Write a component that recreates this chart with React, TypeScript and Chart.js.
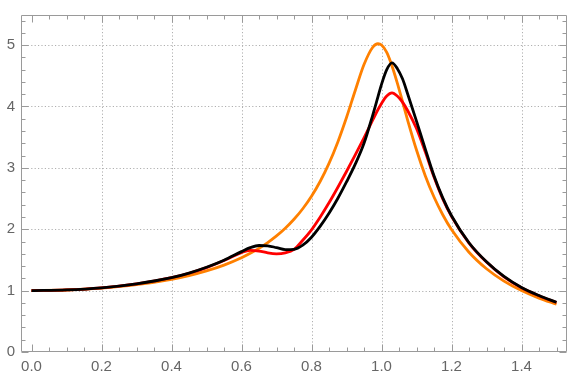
import React, { useEffect, useRef } from "react";
import { Chart, registerables } from "chart.js";

Chart.register(...registerables);

const X_VALUES = [0, 0.1, 0.2, 0.3, 0.4, 0.45, 0.5, 0.55, 0.6, 0.625, 0.65, 0.675, 0.7, 0.725, 0.75, 0.775, 0.8, 0.825, 0.85, 0.875, 0.9, 0.925, 0.95, 0.975, 0.99, 1.0, 1.015, 1.03, 1.045, 1.06, 1.075, 1.1, 1.125, 1.15, 1.175, 1.2, 1.25, 1.3, 1.35, 1.4, 1.45, 1.5];

const ORANGE_Y = [1, 1.01, 1.041, 1.097, 1.185, 1.246, 1.322, 1.416, 1.536, 1.608, 1.689, 1.783, 1.891, 2.016, 2.162, 2.334, 2.538, 2.782, 3.073, 3.419, 3.821, 4.261, 4.683, 4.965, 5.022, 5.0, 4.88, 4.66, 4.385, 4.08, 3.77, 3.29, 2.873, 2.525, 2.236, 1.995, 1.625, 1.356, 1.155, 1.0, 0.877, 0.778];

const RED_Y = [1, 1.011, 1.045, 1.11, 1.21, 1.283, 1.375, 1.49, 1.62, 1.655, 1.645, 1.615, 1.6, 1.615, 1.67, 1.82, 1.99, 2.2, 2.43, 2.68, 2.94, 3.21, 3.49, 3.78, 3.95, 4.05, 4.17, 4.22, 4.17, 4.07, 3.93, 3.64, 3.26, 2.85, 2.495, 2.21, 1.775, 1.465, 1.225, 1.047, 0.917, 0.807];

const BLACK_Y = [1, 1.011, 1.045, 1.11, 1.21, 1.285, 1.38, 1.495, 1.635, 1.7, 1.735, 1.73, 1.7, 1.668, 1.672, 1.74, 1.87, 2.05, 2.26, 2.5, 2.77, 3.06, 3.4, 3.86, 4.16, 4.36, 4.6, 4.71, 4.62, 4.45, 4.2, 3.76, 3.31, 2.87, 2.51, 2.22, 1.78, 1.47, 1.23, 1.05, 0.92, 0.81];

const X_MAJOR = [0, 0.2, 0.4, 0.6, 0.8, 1.0, 1.2, 1.4];
const X_MINOR = [0.05, 0.1, 0.15, 0.25, 0.3, 0.35, 0.45, 0.5, 0.55, 0.65, 0.7, 0.75, 0.85, 0.9, 0.95, 1.05, 1.1, 1.15, 1.25, 1.3, 1.35, 1.45, 1.5];
const Y_MAJOR = [0, 1, 2, 3, 4, 5];
const Y_MINOR = [0.2, 0.4, 0.6, 0.8, 1.2, 1.4, 1.6, 1.8, 2.2, 2.4, 2.6, 2.8, 3.2, 3.4, 3.6, 3.8, 4.2, 4.4, 4.6, 4.8, 5.2, 5.4];
const X_GRID = [0.2, 0.4, 0.6, 0.8, 1.0, 1.2, 1.4];
const Y_GRID = [1, 2, 3, 4, 5];

const X_MIN = -0.03;
const X_MAX = 1.53;
const Y_MIN = 0;
const Y_MAX = 5.49;

const pts = (ys: number[]) => X_VALUES.map((x, i) => ({ x, y: ys[i] }));

const framePlugin = {
  id: "mmaFrame",
  beforeDatasetsDraw(chart: any) {
    const { ctx, chartArea: a, scales } = chart;
    const xs = scales.x;
    const ys = scales.y;
    ctx.save();
    ctx.strokeStyle = "#b0b0b0";
    ctx.lineWidth = 1;
    ctx.setLineDash([1.2, 2.2]);
    for (const v of X_GRID) {
      const p = Math.round(xs.getPixelForValue(v)) + 0.5;
      ctx.beginPath();
      ctx.moveTo(p, a.top);
      ctx.lineTo(p, a.bottom);
      ctx.stroke();
    }
    for (const v of Y_GRID) {
      const p = Math.round(ys.getPixelForValue(v)) + 0.5;
      ctx.beginPath();
      ctx.moveTo(a.left, p);
      ctx.lineTo(a.right, p);
      ctx.stroke();
    }
    ctx.restore();
  },
  afterDatasetsDraw(chart: any) {
    const { ctx, chartArea: a, scales } = chart;
    const xs = scales.x;
    const ys = scales.y;
    ctx.save();
    ctx.strokeStyle = "#9a9a9a";
    ctx.lineWidth = 1;
    ctx.setLineDash([]);
    const L = Math.round(a.left) + 0.5;
    const R = Math.round(a.right) - 0.5;
    const T = Math.round(a.top) + 0.5;
    const B = Math.round(a.bottom) - 0.5;
    ctx.beginPath();
    ctx.rect(L, T, R - L, B - T);
    ctx.stroke();
    const tick = (x1: number, y1: number, x2: number, y2: number) => {
      ctx.beginPath();
      ctx.moveTo(x1, y1);
      ctx.lineTo(x2, y2);
      ctx.stroke();
    };
    const xt = (vals: number[], len: number) => {
      for (const v of vals) {
        const p = Math.round(xs.getPixelForValue(v)) + 0.5;
        tick(p, B, p, B - len);
        tick(p, T, p, T + len);
      }
    };
    const yt = (vals: number[], len: number) => {
      for (const v of vals) {
        const p = Math.round(ys.getPixelForValue(v)) + 0.5;
        tick(L, p, L + len, p);
        tick(R, p, R - len, p);
      }
    };
    xt(X_MAJOR, 7);
    xt(X_MINOR, 4);
    yt(Y_MAJOR, 7);
    yt(Y_MINOR, 4);
    ctx.restore();
  },
};

export default function App() {
  const ref = useRef<HTMLCanvasElement | null>(null);
  useEffect(() => {
    if (!ref.current) return;
    const font = { family: "'Liberation Sans', Arial, sans-serif", size: 15 };
    const chart = new Chart(ref.current, {
      type: "line",
      data: {
        datasets: [
          { label: "black", data: pts(BLACK_Y), borderColor: "#000000", order: 0 },
          { label: "red", data: pts(RED_Y), borderColor: "#ff0000", order: 1 },
          { label: "orange", data: pts(ORANGE_Y), borderColor: "#ff8000", order: 2 },
        ].map((d) => ({
          ...d,
          borderWidth: 2.8,
          pointRadius: 0,
          fill: false,
          cubicInterpolationMode: "monotone" as const,
        })),
      },
      options: {
        animation: false,
        responsive: false,
        layout: { padding: { top: 15, right: 14, left: 0, bottom: 0 } },
        plugins: { legend: { display: false }, tooltip: { enabled: false } },
        scales: {
          x: {
            type: "linear",
            min: X_MIN,
            max: X_MAX,
            grid: { display: false, drawTicks: false },
            border: { display: false },
            afterBuildTicks: (s: any) => {
              s.ticks = X_MAJOR.map((v) => ({ value: v }));
            },
            afterFit: (s: any) => {
              s.height = 37;
            },
            ticks: {
              color: "#666666",
              font,
              padding: 6,
              maxRotation: 0,
              autoSkip: false,
              callback: (v: any) => Number(v).toFixed(1),
            },
          },
          y: {
            type: "linear",
            min: Y_MIN,
            max: Y_MAX,
            grid: { display: false, drawTicks: false },
            border: { display: false },
            afterBuildTicks: (s: any) => {
              s.ticks = Y_MAJOR.map((v) => ({ value: v }));
            },
            afterFit: (s: any) => {
              s.width = 21;
            },
            ticks: {
              color: "#666666",
              font,
              padding: 6,
              autoSkip: false,
              callback: (v: any) => String(v),
            },
          },
        },
      },
      plugins: [framePlugin],
    });
    return () => chart.destroy();
  }, []);
  return (
    <div style={{ position: "absolute", left: 0, top: 0, width: 581, height: 389 }}>
      <canvas ref={ref} width={581} height={389} />
    </div>
  );
}
